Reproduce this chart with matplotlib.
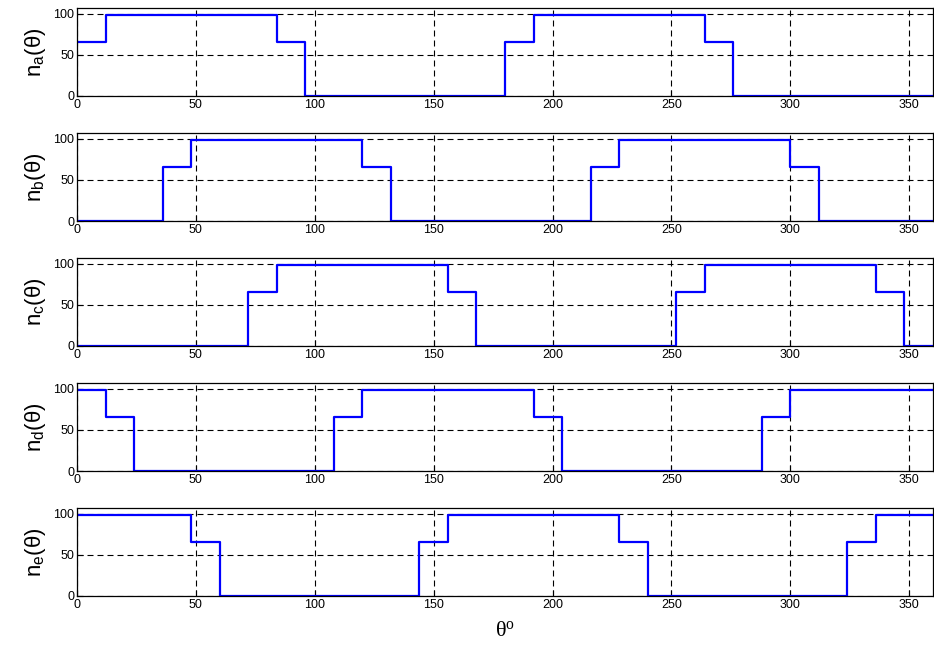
# step profiles of the five phases over one revolution

import matplotlib.pyplot as plt

HI = 98.5
MID = 65.7

theta_a = [0, 12, 84, 96, 180, 192, 264, 276, 360]
n_a = [MID, HI, MID, 0, MID, HI, MID, 0, 0]

theta_b = [0, 36, 48, 120, 132, 216, 228, 300, 312, 360]
n_b = [0, MID, HI, MID, 0, MID, HI, MID, 0, 0]

theta_c = [0, 72, 84, 156, 168, 252, 264, 336, 348, 360]
n_c = [0, MID, HI, MID, 0, MID, HI, MID, 0, 0]

theta_d = [0, 12, 24, 108, 120, 192, 204, 288, 300, 360]
n_d = [HI, MID, 0, MID, HI, MID, 0, MID, HI, HI]

theta_e = [0, 48, 60, 144, 156, 228, 240, 324, 336, 360]
n_e = [HI, MID, 0, MID, HI, MID, 0, MID, HI, HI]

series = [(theta_a, n_a, 'a'), (theta_b, n_b, 'b'), (theta_c, n_c, 'c'),
          (theta_d, n_d, 'd'), (theta_e, n_e, 'e')]

plt.rcParams['font.family'] = ['Liberation Sans', 'DejaVu Sans']

fig = plt.figure(figsize=(9.34, 6.54), dpi=100)

left = 77 / 934
width = 1 - left - 1 / 934
tops = [8, 133, 258, 383, 508]
h = 88

for (t, n, sub), top in zip(series, tops):
    ax = fig.add_axes([left, 1 - (top + h) / 654, width, h / 654])
    ax.step(t, n, where='post', color='#0000ff', lw=1.6)
    ax.set_xlim(0, 360)
    ax.set_ylim(0, 107)
    ax.set_xticks(range(0, 361, 50))
    ax.set_yticks([0, 50, 100])
    ax.tick_params(direction='in', labelsize=9, length=4, width=0.8, pad=2)
    ax.grid(True, color='black', linestyle=(0, (5.4, 3.6)), lw=0.8)
    for s in ax.spines.values():
        s.set_linewidth(0.9)
    ax.set_ylabel(r'$\mathregular{n_%s(\theta)}$' % sub, fontsize=16, labelpad=4)

fig.text(left + width / 2, 1 - 632 / 654, r'$\mathregular{\theta^o}$',
         ha='center', va='center', fontsize=16, family='Liberation Serif')

fig.savefig('out.png', dpi=100)
